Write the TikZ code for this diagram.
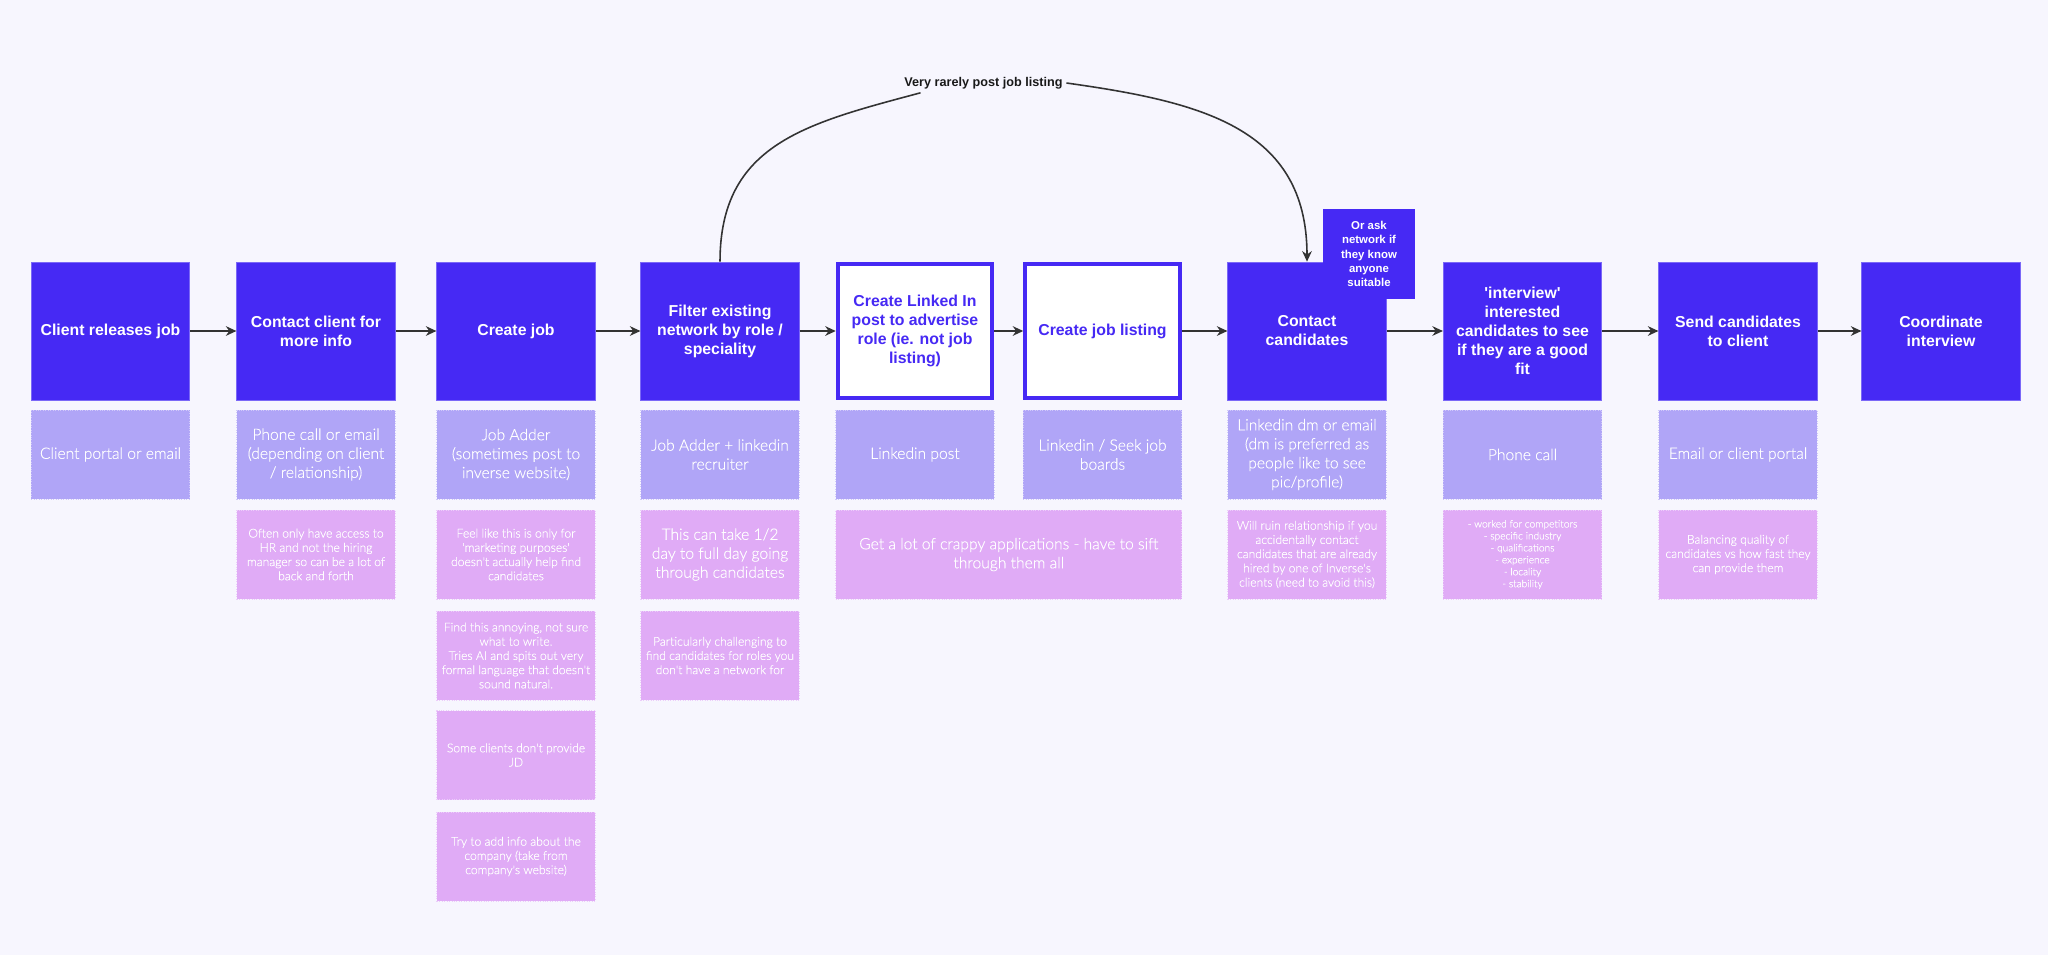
\documentclass[tikz,border=0pt]{standalone}
\usepackage{fontspec}
\setmainfont{Liberation Sans}
\IfFontExistsTF{Lato Light}{\newfontfamily\lightfont{Lato Light}[FakeBold=0.35]}{\newfontfamily\lightfont{Liberation Sans}}
\usepackage{xcolor}
\usetikzlibrary{arrows.meta,calc,positioning}
\definecolor{pagebg}{HTML}{F7F6FE}
\definecolor{stageblue}{HTML}{4629F4}
\definecolor{stageedge}{HTML}{7B68F7}
\definecolor{toolpurple}{HTML}{B0A5F7}
\definecolor{notepink}{HTML}{E0ABF6}
\definecolor{linegray}{HTML}{333333}
\newcommand{\sq}{\textquotesingle}
\tikzset{%
	stage/.style     = {draw=stageedge, line width=0.4pt, fill=stageblue, rectangle, minimum width=3.17cm, minimum height=2.76cm, text=white, align=center, inner sep=1pt, font=\bfseries\fontsize{9}{10.8}\selectfont}, % Step
	stageout/.style  = {stage, draw=stageblue, line width=0.08cm, fill=white, text=stageblue, minimum width=3.09cm, minimum height=2.68cm}, % Optional step
	askbox/.style    = {stage, draw=none, minimum width=1.84cm, minimum height=1.80cm, font=\bfseries\fontsize{6.5}{8.1}\selectfont}, % Side note
	channel/.style   = {draw=white!40!toolpurple, densely dotted, line width=0.4pt, fill=toolpurple, rectangle, minimum width=3.17cm, minimum height=1.78cm, text=white, align=center, inner sep=1pt, font=\lightfont\fontsize{8.9}{10.8}\selectfont}, % Tool
	note/.style      = {channel, draw=white!40!notepink, fill=notepink}, % Pain point
	smallnote/.style = {note, font=\lightfont\fontsize{6.9}{8.1}\selectfont},
	tinynote/.style  = {note, font=\lightfont\fontsize{5.8}{6.8}\selectfont},
	arclabel/.style  = {inner sep=2pt, text=black!90, font=\bfseries\fontsize{7.2}{8.6}\selectfont},
	link/.style      = {line width=0.9pt, draw=linegray},
}

\begin{document}
\begin{tikzpicture}[node distance=4cm, >={Stealth[length=6pt,width=5.5pt]}]
	\fill[pagebg] (0,0) rectangle (40.96,-19.10);
	\useasboundingbox (0,0) rectangle (40.96,-19.10);

	% steps
	\node [stage] (crj) at (2.21,-6.62) {Client releases job};
	\node [stage] (cci) [right of=crj, node distance=4.11cm] {Contact client for\\more info};
	\node [stage] (cjob) [right of=cci, node distance=4.00cm] {Create job};
	\node [stage] (fen) [right of=cjob, node distance=4.08cm] {Filter existing\\network by role /\\speciality};
	\node [stageout] (cli) [right of=fen, node distance=3.90cm] {Create Linked In\\post to advertise\\role (ie. not job\\listing)};
	\node [stageout] (cjl) [right of=cli, node distance=3.75cm] {Create job listing};
	\node [stage] (cc) [right of=cjl, node distance=4.09cm] {Contact\\candidates};
	\node [askbox] (ask) at ([xshift=1.24cm,yshift=1.54cm]cc.center) {Or ask\\network if\\they know\\anyone\\suitable};
	\node [stage] (itv) [right of=cc, node distance=4.31cm] {\sq interview\sq\\interested\\candidates to see\\if they are a good\\fit};
	\node [stage] (scc) [right of=itv, node distance=4.31cm] {Send candidates\\to client};
	\node [stage] (coi) [right of=scc, node distance=4.06cm] {Coordinate\\interview};
	\node [arclabel] (rare) at (19.67,-1.66) {Very rarely post job listing};

	% tools
	\node [channel] (cpe) [below of=crj, node distance=2.47cm] {Client portal or email};
	\node [channel] (pce) [below of=cci, node distance=2.47cm] {Phone call or email\\(depending on client\\/ relationship)};
	\node [channel] (jaw) [below of=cjob, node distance=2.47cm] {Job Adder\\(sometimes post to\\inverse website)};
	\node [channel] (jal) [below of=fen, node distance=2.47cm] {Job Adder + linkedin\\recruiter};
	\node [channel] (lip) [below of=cli, node distance=2.47cm] {Linkedin post};
	\node [channel] (ljb) [below of=cjl, node distance=2.47cm] {Linkedin / Seek job\\boards};
	\node [channel] (lde) [below of=cc, node distance=2.47cm] {Linkedin dm or email\\(dm is preferred as\\people like to see\\pic/profile)};
	\node [channel] (phc) [below of=itv, node distance=2.47cm] {Phone call};
	\node [channel] (ecp) [below of=scc, node distance=2.47cm] {Email or client portal};

	% pain points
	\node [smallnote] (rhr) [below of=pce, node distance=2.0cm] {Often only have access to\\HR and not the hiring\\manager so can be a lot of\\back and forth};
	\node [smallnote] (rmk) [below of=jaw, node distance=2.0cm] {Feel like this is only for\\\sq marketing purposes\sq\\doesn\sq t actually help find\\candidates};
	\node [note] (rtm) [below of=jal, node distance=2.0cm] {This can take 1/2\\day to full day going\\through candidates};
	\node [note, minimum width=6.92cm] (gapps) at ($(lip)!0.5!(ljb)+(0,-2.0)$) {Get a lot of crappy applications - have to sift\\through them all};
	\node [smallnote] (rrel) [below of=lde, node distance=2.0cm] {Will ruin relationship if you\\accidentally contact\\candidates that are already\\hired by one of Inverse\sq s\\clients (need to avoid this)};
	\node [tinynote] (rlist) [below of=phc, node distance=2.0cm] {- worked for competitors\\- specific industry\\- qualifications\\- experience\\- locality\\- stability};
	\node [smallnote] (rbal) [below of=ecp, node distance=2.0cm] {Balancing quality of\\candidates vs how fast they\\can provide them};
	\node [smallnote] (rann) [below of=rmk, node distance=2.02cm] {Find this annoying, not sure\\what to write.\\Tries AI and spits out very\\formal language that doesn\sq t\\sound natural.};
	\node [smallnote] (rchal) [below of=rtm, node distance=2.02cm] {Particularly challenging to\\find candidates for roles you\\don\sq t have a network for};
	\node [smallnote] (rjd) [below of=rann, node distance=1.99cm] {Some clients don\sq t provide\\JD};
	\node [smallnote] (rinfo) [below of=rjd, node distance=2.03cm] {Try to add info about the\\company (take from\\company\sq s website)};

	\draw[link,->] (crj) -- (cci);
	\draw[link,->] (cci) -- (cjob);
	\draw[link,->] (cjob) -- (fen);
	\draw[link,->] (fen) -- (cli);
	\draw[link,->] (cli) -- (cjl);
	\draw[link,->] (cjl) -- (cc);
	\draw[link,->] (cc) -- (itv);
	\draw[link,->] (itv) -- (scc);
	\draw[link,->] (scc) -- (coi);
	\draw[link] (fen.north) to[out=90, in=195, looseness=1.15] ([xshift=0.4cm]rare.south west);
	\draw[link,->] (rare.east) to[out=-8, in=90, looseness=1.15] (cc.north);
\end{tikzpicture}
\end{document}
